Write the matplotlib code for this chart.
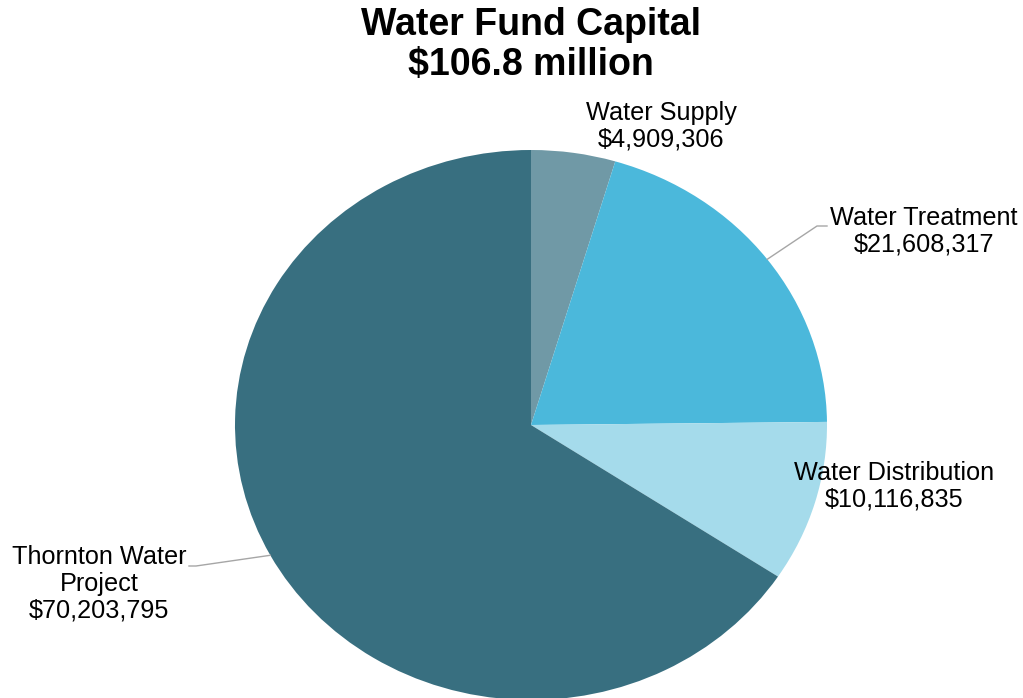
import numpy as np
import matplotlib
matplotlib.use("Agg")
import matplotlib.pyplot as plt

plt.rcParams['font.family'] = ['Liberation Sans', 'DejaVu Sans']

# Water fund capital by program
categorias = ['Water Supply', 'Water Treatment', 'Water Distribution', 'Thornton Water\nProject']
valores = [4909306, 21608317, 10116835, 70203795]
cores = ['#7099a6', '#4bb8db', '#a5dbeb', '#386f80']

W, H = 1023, 698
fig = plt.figure(figsize=(W / 100, H / 100), dpi=100)
ax = fig.add_axes([0, 0, 1, 1])

# pie is slightly squashed vertically (rx 296 px, ry 275 px)
cx, cy, rx, ry = 531, 425, 296, 275
wedges, _ = ax.pie(valores, colors=cores, startangle=90, counterclock=False,
                   radius=1, frame=True, wedgeprops=dict(linewidth=0))
ax.set_aspect('auto')
ax.set_xlim(-cx / rx, (W - cx) / rx)
ax.set_ylim(-(H - cy) / ry, cy / ry)
ax.axis('off')

def px(x, y):
    # pixel coordinates -> data coordinates
    return (x - cx) / rx, (cy - y) / ry

# Labels with value under the name
posicoes = [(661, 126), (924, 231), (894, 486), (99, 584)]
for nome, valor, (x, y) in zip(categorias, valores, posicoes):
    fig.text(x / W, 1 - y / H, f"{nome}\n${valor:,}", ha='center', va='center',
             fontsize=18.2, linespacing=1.15)

# Leader lines for the two outer labels
def ponto_borda(w):
    ang = np.deg2rad((w.theta1 + w.theta2) / 2)
    return np.cos(ang), np.sin(ang)

x0, y0 = ponto_borda(wedges[1])
(x1, y1), (x2, y2) = px(817, 226), px(827, 226)
ax.plot([x0, x1, x2], [y0, y1, y2], color='#a6a6a6', lw=1)
x0, y0 = ponto_borda(wedges[3])
(x1, y1), (x2, y2) = px(196, 566), px(189, 566)
ax.plot([x0, x1, x2], [y0, y1, y2], color='#a6a6a6', lw=1)

fig.text(531 / W, 1 - 45 / H, "Water Fund Capital\n$106.8 million", ha='center', va='center',
         fontsize=27, fontweight='bold', linespacing=1.12)

fig.savefig("out.png", dpi=100)
